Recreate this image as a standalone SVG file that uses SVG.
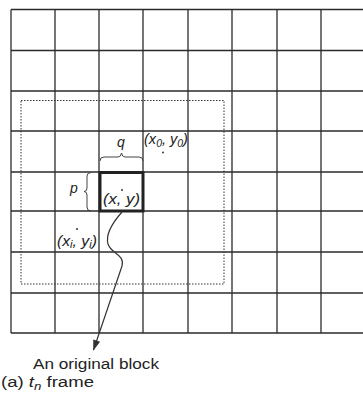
<svg xmlns="http://www.w3.org/2000/svg" width="363" height="403" viewBox="0 0 363 403">
<defs>
<style>
.g{stroke:#2b2b2b;stroke-width:1.3;fill:none}
.t{font-family:"Liberation Sans",Arial,sans-serif;font-size:14px;fill:#222}
.i{font-style:italic}
.s{font-size:10px}
</style>
<marker id="ah" viewBox="0 0 12 10" refX="11" refY="5" markerWidth="12" markerHeight="9" markerUnits="userSpaceOnUse" orient="auto">
<path d="M0,1 L12,5 L0,9 z" fill="#333"/>
</marker>
</defs>
<rect width="363" height="403" fill="#fff"/>
<g id="grid" class="g">
<path d="M11,9.5H363M11,50.5H363M11,91H363M11,131H363M11,172H363M11,211H363M11,252H363M11,293H363M11,333H363"/>
<path d="M11,9.5V333M55,9.5V333M99,9.5V333M143,9.5V333M188,9.5V333M232,9.5V333M277,9.5V333M321,9.5V333"/>
</g>
<g id="search-window">
<rect x="21" y="100.5" width="203" height="183.5" fill="none" stroke="#333" stroke-width="1" stroke-dasharray="1.5,1.5"/>
</g>
<g id="block">
<rect x="100" y="172.5" width="43" height="38.5" fill="none" stroke="#222" stroke-width="3"/>
<text class="t i" x="103" y="204" textLength="37" lengthAdjust="spacingAndGlyphs">(x, y)</text>
<circle cx="122" cy="190" r="0.9" fill="#222"/>
</g>
<g id="q-brace">
<path d="M100,161 Q100,157 104,157 L118,157 Q121,157 121.5,153 Q122,157 125,157 L139,157 Q143,157 143,161" fill="none" stroke="#444" stroke-width="1"/>
<text class="t i" x="117" y="147" font-size="15">q</text>
</g>
<g id="p-brace">
<path d="M91,172.5 Q87,172.5 87,176 L87,188 Q87,191.5 84,191.5 Q87,191.5 87,195 L87,207 Q87,211 91,211" fill="none" stroke="#444" stroke-width="1"/>
<text class="t i" x="70" y="193" font-size="16">p</text>
</g>
<g id="x0y0">
<text class="t i" x="144" y="144" textLength="44" lengthAdjust="spacingAndGlyphs">(x<tspan class="s" dy="3">0</tspan><tspan dy="-3">, y</tspan><tspan class="s" dy="3">0</tspan><tspan dy="-3">)</tspan></text>
<circle cx="163" cy="152.5" r="0.9" fill="#222"/>
</g>
<g id="xiyi">
<text class="t i" x="57" y="246" textLength="40" lengthAdjust="spacingAndGlyphs">(x<tspan class="s" dy="2">i</tspan><tspan dy="-2">, y</tspan><tspan class="s" dy="2">i</tspan><tspan dy="-2">)</tspan></text>
<circle cx="77" cy="229" r="0.9" fill="#222"/>
</g>
<g id="connectors">
<path d="M122,212 C114,221 105,233 108,244 C111,254 125,254 122,266 L93.5,350" fill="none" stroke="#333" stroke-width="1.2" marker-end="url(#ah)"/>
</g>
<g id="labels">
<text class="t" x="33" y="369" textLength="126" lengthAdjust="spacingAndGlyphs">An original block</text>
<text class="t" x="1" y="387" textLength="93" lengthAdjust="spacingAndGlyphs">(a) <tspan class="i">t</tspan><tspan class="i s" dy="3">n</tspan><tspan dy="-3"> frame</tspan></text>
</g>
</svg>
